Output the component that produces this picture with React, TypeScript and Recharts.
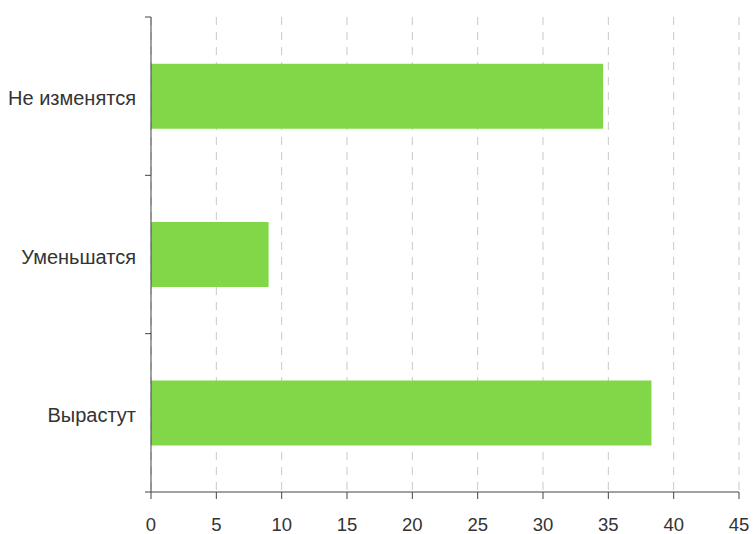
import React from 'react';
import { BarChart, Bar, XAxis, YAxis, CartesianGrid } from 'recharts';

const categories = ['Не изменятся', 'Уменьшатся', 'Вырастут'];
const values = [34.6, 9.0, 38.3];
const xTicks = [0, 5, 10, 15, 20, 25, 30, 35, 40, 45];

const data = categories.map((name, i) => ({ name, value: values[i] }));

const W = 754;
const H = 534;
const MARGIN = { top: 17, right: 15, bottom: 0, left: 0 };
const X_AXIS_H = 42;
const Y_AXIS_W = 151;
const AXIS_COLOR = '#444';
const FONT = '"Liberation Sans", Arial, sans-serif';

const YTick = (props: any) => {
  const { y, payload, index, visibleTicksCount } = props;
  const count = visibleTicksCount || categories.length;
  const plotH = H - MARGIN.top - MARGIN.bottom - X_AXIS_H;
  const band = plotH / count;
  const axisX = Y_AXIS_W;
  return (
    <g>
      <line x1={axisX - 6} x2={axisX} y1={y - band / 2} y2={y - band / 2} stroke={AXIS_COLOR} />
      {index === count - 1 && (
        <line x1={axisX - 6} x2={axisX} y1={y + band / 2} y2={y + band / 2} stroke={AXIS_COLOR} />
      )}
      <text x={axisX - 15} y={y} dy="0.45em" textAnchor="end" fill="#333" fontSize={20} fontFamily={FONT}>
        {payload.value}
      </text>
    </g>
  );
};

export default function App() {
  return (
    <div style={{ position: 'absolute', left: 0, top: 0, width: W, height: H, background: '#fff' }}>
      <BarChart
        width={W}
        height={H}
        data={data}
        layout="vertical"
        margin={MARGIN}
        barCategoryGap="29.5%"
        style={{ overflow: 'visible' }}
      >
        <CartesianGrid horizontal={false} vertical={true} stroke="#c8c8c8" strokeDasharray="8 7" />
        <XAxis
          type="number"
          domain={[0, 45]}
          ticks={xTicks}
          interval={0}
          height={X_AXIS_H}
          stroke={AXIS_COLOR}
          tickSize={7}
          tickMargin={19}
          tick={{ fill: '#333', fontSize: 18.5, fontFamily: FONT }}
          allowDataOverflow
        />
        <YAxis
          type="category"
          dataKey="name"
          width={Y_AXIS_W}
          stroke={AXIS_COLOR}
          tickLine={false}
          tick={<YTick />}
          interval={0}
        />
        <Bar dataKey="value" fill="#82d749" isAnimationActive={false} />
      </BarChart>
    </div>
  );
}
